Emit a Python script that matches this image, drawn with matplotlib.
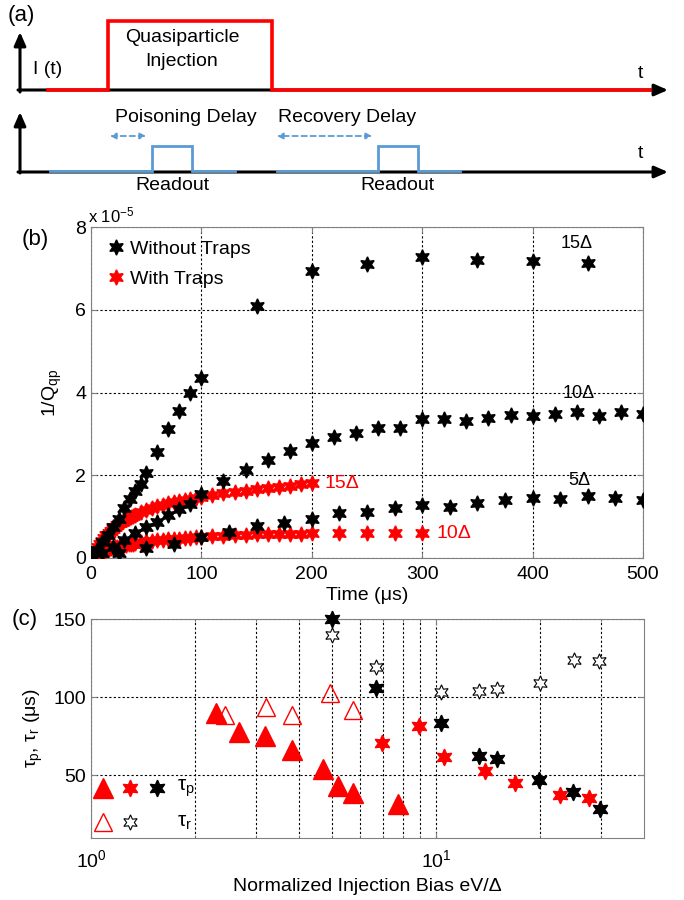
import matplotlib
matplotlib.use("Agg")
import matplotlib.pyplot as plt
from matplotlib.ticker import FixedLocator, NullFormatter, FixedFormatter

plt.rcParams['font.family'] = ['Liberation Sans', 'DejaVu Sans']
plt.rcParams['mathtext.fontset'] = 'custom'
plt.rcParams['mathtext.rm'] = 'Liberation Sans'
plt.rcParams['mathtext.it'] = 'Liberation Sans'

# ---------------- panel (b) data (units of 1e-5) ----------------
t_no15 = [0, 5, 10, 15, 20, 25, 30, 35, 40, 45, 50, 60, 70, 80, 90, 100,
          150, 200, 250, 300, 350, 400, 450]
q_no15 = [0.05, 0.2, 0.38, 0.55, 0.75, 0.95, 1.2, 1.42, 1.62, 1.8, 2.06, 2.55, 3.12, 3.55, 3.98, 4.36,
          6.1, 6.93, 7.1, 7.27, 7.2, 7.17, 7.13]

t_no10 = [0, 10, 20, 30, 40, 50, 60, 70, 80, 90, 100, 120, 140, 160, 180, 200, 220, 240,
          260, 280, 300, 320, 340, 360, 380, 400, 420, 440, 460, 480, 500]
q_no10 = [0.02, 0.12, 0.27, 0.43, 0.6, 0.75, 0.88, 1.04, 1.18, 1.3, 1.55, 1.87, 2.13, 2.36, 2.58, 2.77, 2.93, 3.02,
          3.14, 3.14, 3.36, 3.37, 3.3, 3.39, 3.45, 3.42, 3.47, 3.52, 3.42, 3.52, 3.48]

t_no5 = [0, 25, 50, 75, 100, 125, 150, 175, 200, 225, 250, 275, 300, 325, 350, 375, 400, 425, 450, 475, 500]
q_no5 = [0.0, 0.12, 0.25, 0.34, 0.5, 0.63, 0.78, 0.85, 0.95, 1.08, 1.12, 1.2, 1.28, 1.24, 1.33, 1.4, 1.45, 1.43,
         1.5, 1.45, 1.4]

t_tr15 = [0, 2, 4, 6, 8, 10, 12, 14, 16, 18, 20, 22, 24, 26, 28, 30, 32, 34, 36, 38, 40, 45, 50, 55, 60,
          65, 70, 75, 80, 85, 90, 95, 100, 110, 120, 130, 140, 150, 160, 170, 180, 190, 200]
q_tr15 = [0.03, 0.1, 0.18, 0.26, 0.34, 0.42, 0.49, 0.55, 0.61, 0.66, 0.71, 0.75, 0.8, 0.84, 0.87, 0.91, 0.94,
          0.97, 1.0, 1.02, 1.05, 1.1, 1.16, 1.2, 1.25, 1.28, 1.32, 1.35, 1.38, 1.4, 1.43, 1.45, 1.47, 1.53,
          1.57, 1.6, 1.63, 1.67, 1.7, 1.72, 1.74, 1.78, 1.81]

t_tr10 = [0, 2, 4, 6, 8, 10, 12, 14, 16, 18, 20, 22, 24, 26, 28, 30, 32, 34, 36, 38, 40, 45, 50, 55, 60,
          65, 70, 75, 80, 85, 90, 95, 100, 110, 120, 130, 140, 150, 160, 170, 180, 190, 200,
          225, 250, 275, 300]
q_tr10 = [0.02, 0.05, 0.08, 0.1, 0.13, 0.15, 0.17, 0.19, 0.21, 0.23, 0.24, 0.26, 0.27, 0.28, 0.3, 0.31,
          0.32, 0.33, 0.34, 0.35, 0.36, 0.38, 0.4, 0.41, 0.43, 0.44, 0.45, 0.46, 0.47, 0.48, 0.49, 0.5,
          0.51, 0.52, 0.54, 0.55, 0.56, 0.57, 0.57, 0.58, 0.58, 0.59, 0.6, 0.6, 0.6, 0.6, 0.61]

# ---------------- panel (c) data ----------------
bias_tri_fill = [2.3, 2.69, 3.19, 3.83, 4.7, 5.2, 5.75, 7.76]
tau_tri_fill = [90, 77.5, 75, 66, 54, 43, 38.5, 32]
bias_tri_open = [2.44, 3.22, 3.83, 4.93, 5.75]
tau_tri_open = [88.5, 93.6, 88.5, 102.6, 91.7]
bias_red_star = [6.97, 8.93, 10.55, 13.87, 16.94, 22.9, 27.8]
tau_red_star = [71, 81.4, 61.5, 52.6, 44.9, 37.8, 35.3]
bias_blk_star = [5.0, 6.7, 10.3, 13.3, 15.0, 19.9, 24.9, 29.9]
tau_blk_star = [150, 105.8, 83.3, 62.2, 60.3, 46.8, 39.7, 28.8]
bias_open_star = [5.0, 6.7, 10.3, 13.3, 15.0, 20.0, 25.0, 29.7]
tau_open_star = [139.7, 119.2, 103.2, 103.8, 105, 109, 123.7, 123]

# ---------------- panel (a) schematic (pixel layout) ----------------
red_x = [48, 108, 108, 272, 272, 650]
red_y = [90, 90, 21, 21, 90, 90]
blue1_x = [50, 152, 152, 192, 192, 235]
blue2_x = [277, 378, 378, 418, 418, 460]
blue_y = [171, 171, 146, 146, 171, 171]

STAR = (6, 1, 0)
RED = '#ff0000'
BLUE = '#5b9bd5'
SPINE = '#808080'
FS = 14

fig = plt.figure(figsize=(6.84, 9.0), dpi=100)

# ----- (a) -----
axa = fig.add_axes([0, 1 - 200 / 900, 1, 200 / 900])
axa.set_xlim(0, 684)
axa.set_ylim(200, 0)
axa.axis('off')
arr = dict(arrowstyle='-|>,head_length=0.8,head_width=0.35', color='black', lw=2.2, shrinkA=0, shrinkB=0)
axa.annotate('', xy=(20, 32), xytext=(20, 92), arrowprops=arr, zorder=2)
axa.annotate('', xy=(668, 90), xytext=(18, 90), arrowprops=arr, zorder=2)
axa.annotate('', xy=(20, 112), xytext=(20, 173), arrowprops=arr, zorder=2)
axa.annotate('', xy=(668, 172), xytext=(18, 172), arrowprops=arr, zorder=2)
axa.plot(red_x, red_y, color=RED, lw=2.6, solid_joinstyle='miter', zorder=5)
axa.plot(blue1_x, blue_y, color=BLUE, lw=2.0, solid_joinstyle='miter', zorder=5)
axa.plot(blue2_x, blue_y, color=BLUE, lw=2.0, solid_joinstyle='miter', zorder=5)
darr = dict(arrowstyle='<|-|>,head_length=0.35,head_width=0.18', color=BLUE, lw=1.3,
            linestyle=(0, (3, 2)), shrinkA=0, shrinkB=0)
axa.annotate('', xy=(110, 136), xytext=(146, 136), arrowprops=darr)
axa.annotate('', xy=(277, 136), xytext=(372, 136), arrowprops=darr)
axa.text(8, 15, '(a)', fontsize=16, va='center', ha='left')
axa.text(33, 69, 'I (t)', fontsize=FS, va='center', ha='left')
axa.text(182, 37, 'Quasiparticle', fontsize=FS, va='center', ha='center')
axa.text(182, 61, 'Injection', fontsize=FS, va='center', ha='center')
axa.text(640, 73, 't', fontsize=FS, va='center', ha='center')
axa.text(640, 153, 't', fontsize=FS, va='center', ha='center')
axa.text(186, 118, 'Poisoning Delay', fontsize=FS, va='center', ha='center')
axa.text(347, 118, 'Recovery Delay', fontsize=FS, va='center', ha='center')
axa.text(172, 185, 'Readout', fontsize=FS, va='center', ha='center')
axa.text(397, 185, 'Readout', fontsize=FS, va='center', ha='center')

# ----- (b) -----
axb = fig.add_axes([91 / 684, 1 - 558 / 900, (643 - 91) / 684, (558 - 227) / 900])
axb.plot(t_tr15, q_tr15, ls='none', marker=STAR, ms=11, color=RED, mec=RED, zorder=3)
axb.plot(t_tr10, q_tr10, ls='none', marker=STAR, ms=11, color=RED, mec=RED, zorder=3)
axb.plot(t_no5, q_no5, ls='none', marker=STAR, ms=11, color='black', zorder=4)
axb.plot(t_no10, q_no10, ls='none', marker=STAR, ms=11, color='black', zorder=4)
axb.plot(t_no15, q_no15, ls='none', marker=STAR, ms=11, color='black', zorder=4, label='Without Traps')
axb.plot([], [], ls='none', marker=STAR, ms=11, color=RED, label='With Traps')
axb.set_xlim(0, 500)
axb.set_ylim(0, 8)
axb.set_xticks([0, 100, 200, 300, 400, 500])
axb.set_yticks([0, 2, 4, 6, 8])
axb.grid(True, color='black', ls=(0, (2, 2)), lw=0.8)
axb.tick_params(direction='in', top=True, right=True, labelsize=FS, color=SPINE, length=4)
axb.tick_params(axis='x', pad=6)
for s in axb.spines.values():
    s.set_color(SPINE)
axb.set_xlabel('Time (μs)', fontsize=FS, labelpad=3)
axb.set_ylabel('1/Q$_{\\mathrm{qp}}$', fontsize=FS, labelpad=8)
axb.legend(loc='upper left', frameon=False, fontsize=FS, handletextpad=0.1, borderaxespad=0.3,
           handlelength=1.2, labelspacing=0.6)
axb.text(-0.005, 1.005, 'x 10$^{-5}$', transform=axb.transAxes, fontsize=12, ha='left', va='bottom')
axb.text(440, 7.6, '15Δ', fontsize=13, ha='center', va='center')
axb.text(442, 3.98, '10Δ', fontsize=13, ha='center', va='center')
axb.text(442, 1.88, '5Δ', fontsize=13, ha='center', va='center')
axb.text(227, 1.8, '15Δ', fontsize=14, ha='center', va='center', color=RED)
axb.text(329, 0.6, '10Δ', fontsize=14, ha='center', va='center', color=RED)
fig.text(35 / 684, 1 - 240 / 900, '(b)', fontsize=16, ha='center', va='center')

# ----- (c) -----
axc = fig.add_axes([91 / 684, 1 - 838 / 900, (644 - 91) / 684, (838 - 619) / 900])
axc.set_xscale('log')
axc.plot(bias_tri_fill, tau_tri_fill, ls='none', marker='^', ms=14, color=RED, zorder=3)
axc.plot(bias_tri_open, tau_tri_open, ls='none', marker='^', ms=13, mfc='none', mec=RED, mew=1.0, zorder=3)
axc.plot(bias_red_star, tau_red_star, ls='none', marker=STAR, ms=12, color=RED, zorder=3)
axc.plot(bias_blk_star, tau_blk_star, ls='none', marker=STAR, ms=12, color='black', zorder=4, clip_on=False)
axc.plot(bias_open_star, tau_open_star, ls='none', marker=STAR, ms=11, mfc='white', mec='black', mew=0.8, zorder=3)
axc.set_xlim(1, 40)
axc.set_ylim(10, 150)
axc.xaxis.set_major_locator(FixedLocator([1, 10]))
axc.xaxis.set_major_formatter(FixedFormatter(['$10^0$', '$10^1$']))
axc.xaxis.set_minor_locator(FixedLocator([2, 3, 4, 5, 6, 7, 8, 9, 20, 30]))
axc.xaxis.set_minor_formatter(NullFormatter())
axc.set_yticks([50, 100, 150])
axc.grid(True, which='both', axis='x', color='black', ls=(0, (2, 2)), lw=0.8)
axc.grid(True, which='major', axis='y', color='black', ls=(0, (2, 2)), lw=0.8)
axc.tick_params(which='both', direction='in', top=True, right=True, labelsize=FS, color=SPINE)
axc.tick_params(which='major', length=4)
axc.tick_params(which='minor', length=2.5)
axc.tick_params(axis='x', pad=8)
for s in axc.spines.values():
    s.set_color(SPINE)
axc.set_xlabel('Normalized Injection Bias eV/Δ', fontsize=FS, labelpad=5)
axc.set_ylabel('τ$_\\mathrm{p}$, τ$_\\mathrm{r}$ (μs)', fontsize=FS, labelpad=6)
# legend glyphs
tr = axc.transAxes
axc.plot([0.0217], [0.228], transform=tr, marker='^', ms=14, color=RED, clip_on=False)
axc.plot([0.0705], [0.228], transform=tr, marker=STAR, ms=12, color=RED, clip_on=False)
axc.plot([0.119], [0.228], transform=tr, marker=STAR, ms=12, color='black', clip_on=False)
axc.text(0.155, 0.228, 'τ$_\\mathrm{p}$', transform=tr, fontsize=15, ha='left', va='center')
axc.plot([0.0217], [0.073], transform=tr, marker='^', ms=13, mfc='none', mec=RED, mew=1.0, clip_on=False)
axc.plot([0.0705], [0.073], transform=tr, marker=STAR, ms=11, mfc='white', mec='black', mew=0.8, clip_on=False)
axc.text(0.155, 0.073, 'τ$_\\mathrm{r}$', transform=tr, fontsize=15, ha='left', va='center')
fig.text(25 / 684, 1 - 620 / 900, '(c)', fontsize=16, ha='center', va='center')

fig.savefig('out.png', dpi=100)
